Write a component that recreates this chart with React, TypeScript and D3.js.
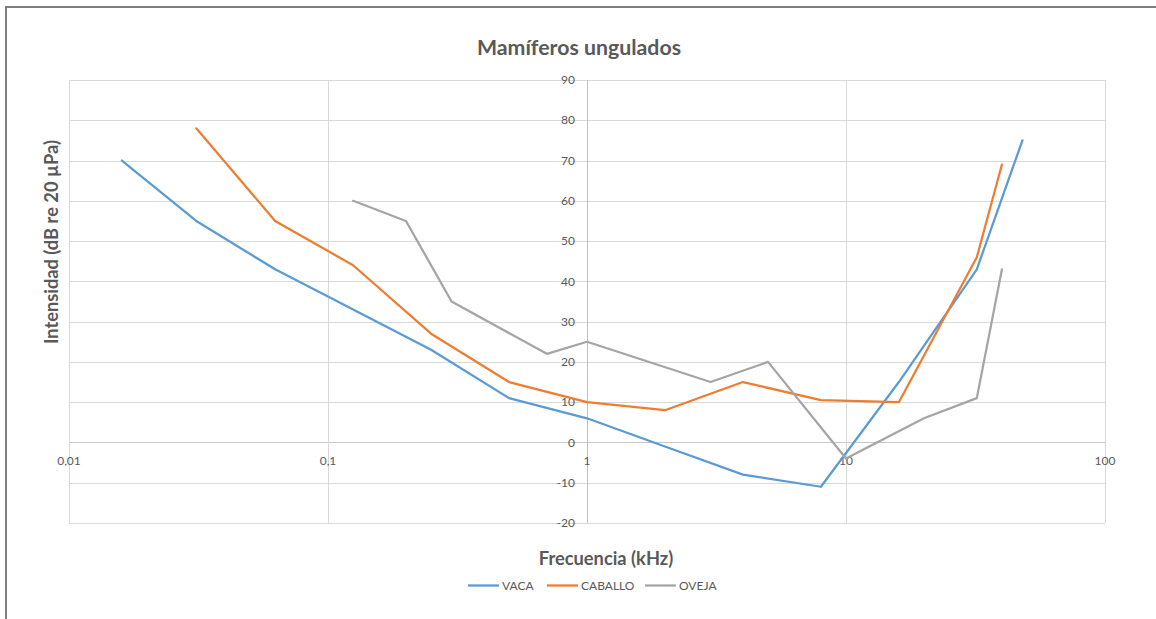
import React from "react";
import * as d3 from "d3";

const vacaFreq = [0.016, 0.031, 0.0625, 0.125, 0.25, 0.5, 1, 2, 4, 8, 16, 32, 48];
const vacaDb = [70, 55, 43, 33, 23, 11, 6, -1, -8, -11, 15, 43, 75];

const caballoFreq = [0.031, 0.0625, 0.125, 0.25, 0.5, 1, 2, 4, 8, 16, 32, 40];
const caballoDb = [78, 55, 44, 27, 15, 10, 8, 15, 10.5, 10, 46, 69];

const ovejaFreq = [0.125, 0.2, 0.3, 0.7, 1, 3, 5, 10, 20, 32, 40];
const ovejaDb = [60, 55, 35, 22, 25, 15, 20, -4, 6, 11, 43];

const xTicks = [0.01, 0.1, 1, 10, 100];
const xTickLabels = ["0,01", "0,1", "1", "10", "100"];
const yTicks = [-20, -10, 0, 10, 20, 30, 40, 50, 60, 70, 80, 90];

const seriesNames = ["VACA", "CABALLO", "OVEJA"];
const seriesColors = ["#5B9BD5", "#ED7D31", "#A5A5A5"];

const W = 1156;
const H = 619;
const FONT = "Lato, 'Open Sans', sans-serif";
const TXT = "#595959";

export default function App() {
  const x = d3.scaleLog().domain([0.01, 100]).range([69, 1105]);
  const y = d3.scaleLinear().domain([-20, 90]).range([523, 80]);

  const series = [
    { f: vacaFreq, v: vacaDb },
    { f: caballoFreq, v: caballoDb },
    { f: ovejaFreq, v: ovejaDb },
  ];
  const line = d3
    .line<[number, number]>()
    .x((d) => x(d[0]))
    .y((d) => y(d[1]));

  const legendX = [468, 547, 645];

  return (
    <svg
      width={W}
      height={H}
      style={{ position: "absolute", left: 0, top: 0, background: "#fff" }}
      fontFamily={FONT}
    >
      <rect x={0} y={0} width={W} height={H} fill="#fff" />
      {/* outer border */}
      <line x1={5} y1={7} x2={W} y2={7} stroke="#7f7f7f" strokeWidth={2} />
      <line x1={6} y1={6} x2={6} y2={H} stroke="#7f7f7f" strokeWidth={2} />

      {/* horizontal gridlines */}
      {yTicks.map((t) => (
        <line
          key={"h" + t}
          x1={69}
          x2={1105}
          y1={Math.round(y(t)) + 0.5}
          y2={Math.round(y(t)) + 0.5}
          stroke={t === 0 ? "#c8c8c8" : "#d9d9d9"}
          strokeWidth={1}
        />
      ))}
      {/* vertical gridlines */}
      {xTicks.map((t) => (
        <line
          key={"v" + t}
          x1={Math.round(x(t)) + 0.5}
          x2={Math.round(x(t)) + 0.5}
          y1={80}
          y2={523}
          stroke={t === 1 ? "#bfbfbf" : "#d9d9d9"}
          strokeWidth={1}
        />
      ))}

      {/* y tick labels */}
      {yTicks.map((t) => (
        <text
          key={"yl" + t}
          x={575}
          y={y(t)}
          dy="0.35em"
          textAnchor="end"
          fontSize={12}
          fill={TXT}
        >
          {t}
        </text>
      ))}
      {/* x tick labels */}
      {xTicks.map((t, i) => (
        <text
          key={"xl" + t}
          x={x(t)}
          y={461}
          dy="0.35em"
          textAnchor="middle"
          fontSize={12}
          fill={TXT}
        >
          {xTickLabels[i]}
        </text>
      ))}

      {/* series */}
      {series.map((s, i) => (
        <path
          key={"s" + i}
          d={line(s.f.map((f, j) => [f, s.v[j]] as [number, number])) || ""}
          fill="none"
          stroke={seriesColors[i]}
          strokeWidth={2.25}
          strokeLinejoin="round"
          strokeLinecap="round"
        />
      ))}

      {/* title */}
      <text x={579} y={48} dy="0.35em" textAnchor="middle" fontSize={21.3} fontWeight="bold" fill={TXT}>
        Mamíferos ungulados
      </text>
      {/* axis titles */}
      <text
        transform="translate(52,242) rotate(-90)"
        dy="0.35em"
        textAnchor="middle"
        fontSize={18.3}
        fontWeight="bold"
        fill={TXT}
      >
        Intensidad (dB re 20 µPa)
      </text>
      <text x={606} y={559} dy="0.35em" textAnchor="middle" fontSize={18.3} fontWeight="bold" fill={TXT}>
        Frecuencia (kHz)
      </text>

      {/* legend */}
      {seriesNames.map((n, i) => (
        <g key={"lg" + i}>
          <line
            x1={legendX[i]}
            x2={legendX[i] + 31}
            y1={585.5}
            y2={585.5}
            stroke={seriesColors[i]}
            strokeWidth={2.25}
          />
          <text x={legendX[i] + 34} y={585.5} dy="0.35em" fontSize={12} fill={TXT}>
            {n}
          </text>
        </g>
      ))}
    </svg>
  );
}
